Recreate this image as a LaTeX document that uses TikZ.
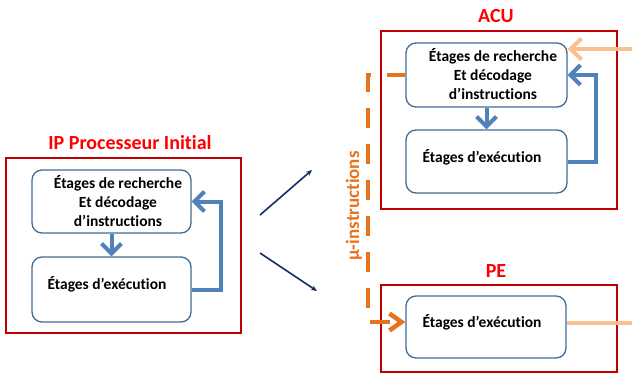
\documentclass[tikz,border=0pt]{standalone}
\usepackage{fontspec}
\setmainfont{Carlito}[Ligatures=NoCommon]
\usetikzlibrary{arrows.meta}
\definecolor{redbox}{RGB}{192,0,0}
\definecolor{redtitle}{RGB}{255,0,0}
\definecolor{boxblue}{RGB}{65,107,150}
\definecolor{arrblue}{RGB}{79,129,189}
\definecolor{navy}{RGB}{22,45,100}
\definecolor{orng}{RGB}{230,115,30}
\definecolor{peach}{RGB}{250,192,144}
\begin{document}
\begin{tikzpicture}[x=1pt,y=-1pt,
  frame/.style={draw=redbox, line width=1.5pt, minimum width=#1, inner sep=0},
  stage/.style={draw=boxblue, line width=1.3pt, rounded corners=10pt, inner sep=0},
  lbl/.style={font=\bfseries\fontsize{15.5}{19}\selectfont, align=center, inner sep=0},
  ttl/.style={font=\bfseries\fontsize{20}{22}\selectfont, text=redtitle, inner sep=0},
  flow/.style={draw=arrblue, line width=4pt, -{Straight Barb[length=10pt,width=20pt]}},
  peachflow/.style={draw=peach, line width=4pt, -{Straight Barb[length=11pt,width=21pt]}},
  microflow/.style={draw=orng, line width=4.5pt, dash pattern=on 20pt off 16pt, dash phase=2pt, -{Straight Barb[length=12pt,width=17pt]}},
  thin/.style={draw=navy, line width=1.6pt, -{Stealth[length=6pt,width=5pt]}}
]
\useasboundingbox (0,0) rectangle (632,373);

% left: initial processor
\node[frame=235pt, minimum height=175pt] (lf) at (123.5,245.5) {};
\node[ttl] (lt) at (130,143) {IP Processeur Initial};
\node[stage, minimum width=159pt, minimum height=63pt] (lb1) at (111.5,201.5) {};
\node[stage, minimum width=159pt, minimum height=65pt] (lb2) at (111.5,289.5) {};
\node[lbl] (lt1) at (118,201) {Étages de recherche\\Et décodage\\d’instructions};
\node[lbl] (lt2) at (107,284) {Étages d’exécution};
\draw[flow] (lb1.south) -- (lb2.north);
\draw[flow] (lb2.east) -- ++(29,0) |- (lb1.east);

% transformation arrows
\coordinate (a1s) at (260,215);
\coordinate (a1e) at (312,170);
\coordinate (a2s) at (260,253);
\coordinate (a2e) at (317,291);
\draw[thin] (a1s) -- (a1e);
\draw[thin] (a2s) -- (a2e);

% ACU
\node[frame=236pt, minimum height=178pt] (af) at (499,120) {};
\node[ttl] (at) at (496,16) {ACU};
\node[stage, minimum width=161pt, minimum height=64pt] (ab1) at (486.5,75) {};
\node[stage, minimum width=161pt, minimum height=63pt] (ab2) at (486.5,161.5) {};
\node[lbl] (at1) at (493,74) {Étages de recherche\\Et décodage\\d’instructions};
\node[lbl] (at2) at (482,157) {Étages d’exécution};
\draw[flow] (ab1.south) -- (ab2.north);
\draw[flow] (ab2.east) -- ++(28,0) |- (ab1.east);
\coordinate (pin) at (632,49);
\draw[peachflow] (pin) -- (pin -| ab1.east);

% PE
\node[frame=236pt, minimum height=87pt] (pf) at (499,328.5) {};
\node[ttl] (pt) at (496,271) {PE};
\node[stage, minimum width=160pt, minimum height=62pt] (pb) at (486,327) {};
\node[lbl] (pt1) at (482,322) {Étages d’exécution};
\coordinate (pout) at (632,323);
\draw[draw=peach, line width=4pt] (pout -| pb.east) -- (pout);

% micro-instructions
\coordinate (c1) at (368,75);
\coordinate (c2) at (368,322);
\draw[microflow] (ab1.west) -- (c1) -- (c2) -- (c2 -| pb.west);
\node[rotate=90, text=orng, font=\bfseries\fontsize{19}{22}\selectfont, inner sep=0] (mu) at (354,206) {μ-instructions};
\end{tikzpicture}
\end{document}
